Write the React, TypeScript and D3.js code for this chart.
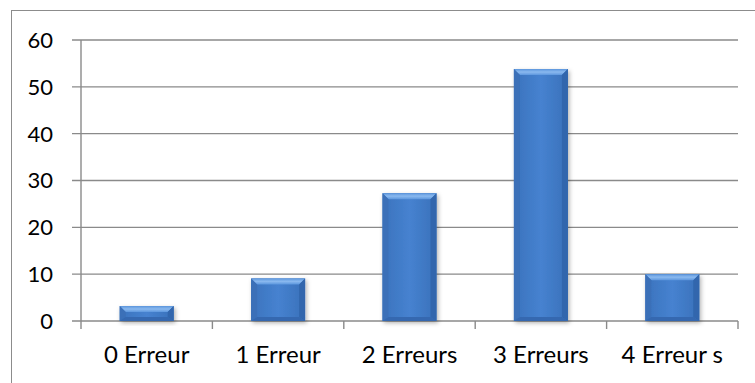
import React from "react";
import * as d3 from "d3";

const categories = ["0 Erreur", "1 Erreur", "2 Erreurs", "3 Erreurs", "4 Erreur s"];
const values = [3.2, 9.1, 27.3, 53.8, 10];
const yTicks = [0, 10, 20, 30, 40, 50, 60];

const W = 755;
const H = 383;
const plot = { left: 81, right: 738, top: 40, bottom: 321 };
const FONT = "Lato, 'Open Sans', sans-serif";

function Bar({ x, y, w, h }: { x: number; y: number; w: number; h: number }) {
  const b = Math.min(6, h / 2, w / 2);
  const bb = Math.min(4, h / 3);
  const x1 = x + w;
  const y1 = y + h;
  return (
    <g filter="url(#barShadow)">
      <rect x={x} y={y} width={w} height={h} fill="url(#bodyGrad)" />
      {/* top facet */}
      <polygon
        points={`${x},${y} ${x1},${y} ${x1 - b},${y + b} ${x + b},${y + b}`}
        fill="url(#topGrad)"
      />
      {/* left facet */}
      <polygon
        points={`${x},${y} ${x + b},${y + b} ${x + b},${y1 - bb} ${x},${y1}`}
        fill="#3a70b8"
      />
      {/* right facet */}
      <polygon
        points={`${x1},${y} ${x1},${y1} ${x1 - b},${y1 - bb} ${x1 - b},${y + b}`}
        fill="#3066ad"
      />
      {/* bottom facet */}
      <polygon
        points={`${x},${y1} ${x + b},${y1 - bb} ${x1 - b},${y1 - bb} ${x1},${y1}`}
        fill="#3468b0"
      />
    </g>
  );
}

export default function App() {
  const x = d3
    .scaleBand<string>()
    .domain(categories)
    .range([plot.left, plot.right])
    .paddingInner(0.589)
    .paddingOuter(0.2945);
  const y = d3.scaleLinear().domain([0, 60]).range([plot.bottom, plot.top]);
  const step = x.step();
  const boundaries = d3.range(categories.length + 1).map((i) => plot.left + i * step);

  return (
    <svg
      width={W}
      height={H}
      style={{ position: "absolute", left: 0, top: 0, display: "block", background: "#fff" }}
    >
      <defs>
        <linearGradient id="bodyGrad" x1="0" y1="0" x2="1" y2="0">
          <stop offset="0" stopColor="#3b73bd" />
          <stop offset="0.5" stopColor="#4682d0" />
          <stop offset="1" stopColor="#3a71ba" />
        </linearGradient>
        <linearGradient id="topGrad" x1="0" y1="0" x2="0" y2="1">
          <stop offset="0" stopColor="#5b95dc" />
          <stop offset="0.5" stopColor="#8ab9ef" />
          <stop offset="1" stopColor="#5d97de" />
        </linearGradient>
        <filter id="barShadow" x="-20%" y="-20%" width="150%" height="150%">
          <feDropShadow dx="1.5" dy="2" stdDeviation="2" floodColor="#000" floodOpacity="0.3" />
        </filter>
      </defs>

      {/* outer chart frame */}
      <rect x={11.5} y={10.5} width={W + 10} height={H + 10} fill="none" stroke="#8c8c8c" strokeWidth={1} />

      {/* gridlines and y ticks */}
      {yTicks.map((t) => (
        <g key={t}>
          <line
            x1={plot.left - 9}
            x2={plot.right}
            y1={y(t)}
            y2={y(t)}
            stroke="#8a8a8a"
            strokeWidth={1.4}
          />
          <text
            x={53}
            y={y(t)}
            dy="0.36em"
            textAnchor="end"
            fontFamily={FONT}
            fontSize={22}
            fill="#000"
          >
            {t}
          </text>
        </g>
      ))}

      {/* y axis */}
      <line x1={plot.left} x2={plot.left} y1={plot.top} y2={plot.bottom} stroke="#8a8a8a" strokeWidth={1.4} />

      {/* category tick marks */}
      {boundaries.map((bx, i) => (
        <line key={i} x1={bx} x2={bx} y1={plot.bottom} y2={plot.bottom + 8} stroke="#8a8a8a" strokeWidth={1.4} />
      ))}

      {/* bars */}
      {categories.map((c, i) => (
        <Bar key={c} x={x(c)!} y={y(values[i])} w={x.bandwidth()} h={plot.bottom - y(values[i])} />
      ))}

      {/* category labels */}
      {categories.map((c) => (
        <text
          key={c}
          x={x(c)! + x.bandwidth() / 2}
          y={363}
          textAnchor="middle"
          fontFamily={FONT}
          fontSize={24}
          fill="#000"
        >
          {c}
        </text>
      ))}
    </svg>
  );
}
